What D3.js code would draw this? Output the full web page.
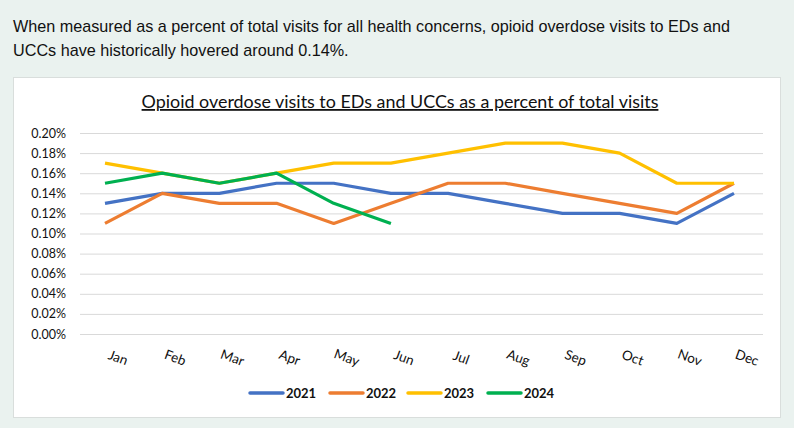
<!DOCTYPE html>
<html>
<head>
<meta charset="utf-8">
<script src="https://cdn.jsdelivr.net/npm/d3@7"></script>
<style>
  body { margin:0; background:#eaf2ef; width:794px; height:428px; overflow:hidden; }
  .intro { position:absolute; left:13px; top:14px; width:745px; font-family:"Liberation Sans", Arial, sans-serif; font-size:16.2px; line-height:24px; color:#111; }
  svg { position:absolute; left:0; top:0; }
</style>
</head>
<body>
<div class="intro">When measured as a percent of total visits for all health concerns, opioid overdose visits to EDs and UCCs have historically hovered around 0.14%.</div>
<div id="chart"></div>
<script>
const months = ["Jan","Feb","Mar","Apr","May","Jun","Jul","Aug","Sep","Oct","Nov","Dec"];
const years = ["2021","2022","2023","2024"];
const v2021 = [0.13,0.14,0.14,0.15,0.15,0.14,0.14,0.13,0.12,0.12,0.11,0.14];
const v2022 = [0.11,0.14,0.13,0.13,0.11,0.13,0.15,0.15,0.14,0.13,0.12,0.15];
const v2023 = [0.17,0.16,0.15,0.16,0.17,0.17,0.18,0.19,0.19,0.18,0.15,0.15];
const v2024 = [0.15,0.16,0.15,0.16,0.13,0.11];
const yTicks = [0,0.02,0.04,0.06,0.08,0.10,0.12,0.14,0.16,0.18,0.20];
const colors = ["#4472c4","#ed7d31","#ffc000","#00b050"];

const series = [v2021, v2022, v2023, v2024].map((vals, i) => ({
    year: years[i],
    color: colors[i],
    values: vals.map((v, j) => ({month: months[j], value: v}))
}));

//svg size
const width = 794, height = 428;
const svg = d3.select("#chart").append("svg")
    .attr("width", width)
    .attr("height", height);

// chart panel
svg.append("rect")
    .attr("x", 13.5).attr("y", 77.5)
    .attr("width", 767).attr("height", 340)
    .attr("fill", "#fff")
    .attr("stroke", "#d9dedc");

const font = "Lato, 'Open Sans', sans-serif";

svg.append("text")
    .attr("x", 400).attr("y", 108)
    .attr("text-anchor", "middle")
    .attr("font-family", font)
    .attr("font-size", 17.9)
    .attr("text-decoration", "underline")
    .attr("fill", "#111")
    .text("Opioid overdose visits to EDs and UCCs as a percent of total visits");

//scales
const xScale = d3.scalePoint()
    .domain(months)
    .range([105, 734]);

const yScale = d3.scaleLinear()
    .domain([0, 0.20])
    .range([334, 133]);

// gridlines + y labels
const yAxis = d3.axisLeft(yScale)
    .tickValues(yTicks)
    .tickSize(-683)
    .tickPadding(14)
    .tickFormat(d => d.toFixed(2) + "%");

const gy = svg.append("g")
    .attr("transform", "translate(80,0)")
    .call(yAxis);
gy.select(".domain").remove();
gy.selectAll("line").attr("stroke", "#d9d9d9").attr("stroke-width", 1);
gy.selectAll("text")
    .attr("font-family", font)
    .attr("font-size", 12.5)
    .attr("fill", "#111");

// x labels (rotated)
const xAxis = d3.axisBottom(xScale).tickSize(0).tickPadding(0);
const gx = svg.append("g")
    .attr("transform", "translate(0,334)")
    .call(xAxis);
gx.select(".domain").remove();
gx.selectAll("text")
    .attr("font-family", font)
    .attr("font-size", 13.5)
    .attr("fill", "#111")
    .attr("text-anchor", "middle")
    .attr("dy", 0)
    .attr("transform", "translate(11,28) rotate(20)");

// lines
const line = d3.line()
    .x(d => xScale(d.month))
    .y(d => yScale(d.value));

svg.selectAll(".series")
    .data(series)
    .enter().append("path")
    .attr("class", "series")
    .attr("d", d => line(d.values))
    .attr("fill", "none")
    .attr("stroke", d => d.color)
    .attr("stroke-width", 3.2)
    .attr("stroke-linejoin", "round");

// legend
const legendX = [250, 330, 408, 488];
const lg = svg.selectAll(".legend")
    .data(series)
    .enter().append("g")
    .attr("class", "legend")
    .attr("transform", (d, i) => "translate(" + legendX[i] + ",393)");
lg.append("line")
    .attr("x1", 0).attr("x2", 33)
    .attr("stroke", d => d.color)
    .attr("stroke-width", 3.5)
    .attr("stroke-linecap", "round");
lg.append("text")
    .attr("x", 36).attr("y", 5)
    .attr("font-family", font)
    .attr("font-size", 13)
    .attr("font-weight", "bold")
    .attr("fill", "#111")
    .text(d => d.year);
</script>
</body>
</html>
